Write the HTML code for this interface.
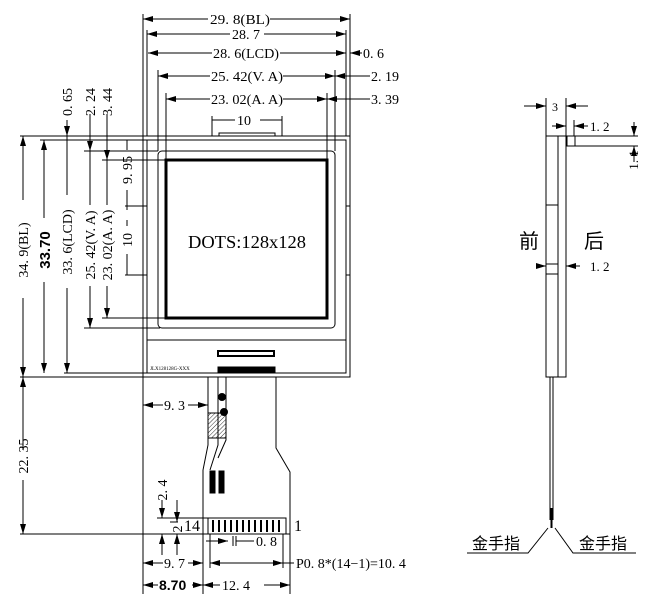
<!DOCTYPE html>
<html><head><meta charset="utf-8"><style>
html,body{margin:0;padding:0;background:#fff;width:668px;height:594px;overflow:hidden}
svg{display:block}
text{font-family:"Liberation Serif","Noto Serif CJK SC",serif;fill:#000}
.s{font-family:"Liberation Sans",sans-serif;font-weight:bold}
.c{font-family:"Noto Sans CJK SC",sans-serif}
</style></head><body>
<svg width="668" height="594" viewBox="0 0 668 594" xmlns="http://www.w3.org/2000/svg">
<defs>
<marker id="a" viewBox="0 0 10 6" refX="10" refY="3" markerWidth="10" markerHeight="6" orient="auto-start-reverse" markerUnits="userSpaceOnUse"><path d="M0,0L10,3L0,6z" fill="#000"/></marker>
<pattern id="h" width="3" height="3" patternUnits="userSpaceOnUse" patternTransform="rotate(45)"><line x1="0" y1="0" x2="0" y2="3" stroke="#000" stroke-width="0.8"/></pattern>
</defs>
<g stroke="#000" stroke-width="1" fill="none">
<line x1="143" y1="14" x2="143" y2="594"/>
<line x1="350" y1="14" x2="350" y2="136"/>
<line x1="147" y1="30" x2="147" y2="136"/>
<line x1="346" y1="30" x2="346" y2="136"/>
<line x1="158" y1="70" x2="158" y2="151"/>
<line x1="335" y1="70" x2="335" y2="151"/>
<line x1="166" y1="93" x2="166" y2="160"/>
<line x1="327" y1="93" x2="327" y2="160"/>
<line x1="212" y1="116" x2="212" y2="136"/>
<line x1="282" y1="116" x2="282" y2="136"/>
<line x1="143" y1="19" x2="208" y2="19" marker-start="url(#a)"/><line x1="270" y1="19" x2="350" y2="19" marker-end="url(#a)"/>
<line x1="147" y1="34" x2="230" y2="34" marker-start="url(#a)"/><line x1="264" y1="34" x2="346" y2="34" marker-end="url(#a)"/>
<line x1="148" y1="53" x2="212" y2="53" marker-start="url(#a)"/><line x1="280" y1="53" x2="346" y2="53" marker-end="url(#a)"/>
<line x1="362" y1="53" x2="350" y2="53" marker-end="url(#a)"/>
<line x1="158" y1="76" x2="210" y2="76" marker-start="url(#a)"/><line x1="283" y1="76" x2="335" y2="76" marker-end="url(#a)"/>
<line x1="370" y1="76" x2="335" y2="76" marker-end="url(#a)"/>
<line x1="166" y1="99" x2="210" y2="99" marker-start="url(#a)"/><line x1="283" y1="99" x2="327" y2="99" marker-end="url(#a)"/>
<line x1="370" y1="99" x2="327" y2="99" marker-end="url(#a)"/>
<line x1="212" y1="120" x2="235" y2="120"/><line x1="260" y1="120" x2="282" y2="120"/>
<line x1="20" y1="136" x2="350" y2="136"/>
<line x1="40" y1="140" x2="346" y2="140"/>
<rect x="143" y="136" width="207" height="241"/>
<rect x="147" y="140" width="199" height="233"/>
<rect x="219" y="133" width="56" height="3"/>
<rect x="158" y="151" width="177" height="177" rx="4"/>
<rect x="166" y="160" width="161" height="158" stroke-width="3"/>
<line x1="147" y1="340" x2="346" y2="340"/>
<rect x="218" y="351" width="56" height="5" stroke-width="2"/>
<rect x="218" y="367" width="57" height="6" fill="#000"/>
<line x1="20" y1="377" x2="350" y2="377"/>
<line x1="143" y1="206" x2="147" y2="206"/><line x1="346" y1="206" x2="350" y2="206"/>
<line x1="143" y1="275" x2="147" y2="275"/><line x1="346" y1="275" x2="350" y2="275"/>
<line x1="23" y1="136" x2="23" y2="200" marker-start="url(#a)"/><line x1="23" y1="298" x2="23" y2="377" marker-end="url(#a)"/>
<line x1="44" y1="140" x2="44" y2="218" marker-start="url(#a)"/><line x1="44" y1="282" x2="44" y2="373" marker-end="url(#a)"/>
<line x1="67" y1="120" x2="67" y2="136" marker-end="url(#a)"/>
<line x1="67" y1="136" x2="67" y2="195"/><line x1="67" y1="288" x2="67" y2="373" marker-end="url(#a)"/>
<line x1="64" y1="373" x2="147" y2="373"/>
<line x1="90" y1="114" x2="90" y2="151" marker-end="url(#a)"/>
<line x1="90" y1="151" x2="90" y2="205"/><line x1="90" y1="286" x2="90" y2="328" marker-end="url(#a)"/>
<line x1="84" y1="151" x2="158" y2="151"/><line x1="84" y1="328" x2="160" y2="328"/>
<line x1="107" y1="114" x2="107" y2="160" marker-end="url(#a)"/>
<line x1="107" y1="160" x2="107" y2="205"/><line x1="107" y1="286" x2="107" y2="318" marker-end="url(#a)"/>
<line x1="102" y1="160" x2="166" y2="160"/><line x1="102" y1="318" x2="166" y2="318"/>
<line x1="127" y1="140" x2="127" y2="150"/><line x1="127" y1="190" x2="127" y2="210"/>
<line x1="125" y1="206" x2="143" y2="206"/>
<line x1="127" y1="220" x2="127" y2="226"/><line x1="127" y1="254" x2="127" y2="275"/>
<line x1="125" y1="275" x2="143" y2="275"/>
<path d="M208,377V445L203,470V534"/>
<path d="M218,377V445L210,470"/>
<path d="M226,377V440L218,458"/>
<path d="M276,377V448L290,472V534"/>
<rect x="208" y="413" width="18" height="25" fill="url(#h)"/>
<circle cx="222" cy="397" r="3.5" fill="#000"/><circle cx="224" cy="412" r="3.5" fill="#000"/>
<rect x="210" y="471" width="5" height="22" fill="#000"/><rect x="219" y="471" width="5" height="22" fill="#000"/>
<rect x="208" y="518" width="78" height="16"/>
<path d="M213,520V532M219,520V532M225,520V532M231,520V532M237,520V532M243,520V532M249,520V532M255,520V532M261,520V532M267,520V532M273,520V532M279,520V532" stroke-width="2"/>
<line x1="20" y1="534" x2="290" y2="534"/>
<line x1="23" y1="377" x2="23" y2="450" marker-start="url(#a)"/><line x1="23" y1="480" x2="23" y2="534" marker-end="url(#a)"/>
<line x1="143" y1="405" x2="163" y2="405" marker-start="url(#a)"/><line x1="188" y1="405" x2="208" y2="405" marker-end="url(#a)"/>
<line x1="157" y1="518" x2="208" y2="518"/><line x1="170" y1="522" x2="178" y2="522"/>
<line x1="162" y1="500" x2="162" y2="518" marker-end="url(#a)"/><line x1="162" y1="555" x2="162" y2="534" marker-end="url(#a)"/>
<line x1="177" y1="500" x2="177" y2="522" marker-end="url(#a)"/><line x1="177" y1="555" x2="177" y2="534" marker-end="url(#a)"/>
<line x1="203" y1="534" x2="203" y2="594"/><line x1="290" y1="534" x2="290" y2="594"/>
<line x1="210" y1="534" x2="210" y2="568"/><line x1="283" y1="534" x2="283" y2="568"/>
<line x1="206" y1="541" x2="228" y2="541" marker-end="url(#a)"/><line x1="233" y1="536" x2="233" y2="546"/><line x1="236" y1="536" x2="236" y2="546"/><line x1="236" y1="541" x2="254" y2="541"/>
<line x1="143" y1="563" x2="163" y2="563" marker-start="url(#a)"/><line x1="188" y1="563" x2="203" y2="563" marker-end="url(#a)"/>
<line x1="210" y1="563" x2="283" y2="563" marker-start="url(#a)" marker-end="url(#a)"/>
<line x1="283" y1="563" x2="294" y2="563"/>
<line x1="143" y1="585" x2="158" y2="585" marker-start="url(#a)"/><line x1="192" y1="585" x2="203" y2="585" marker-end="url(#a)"/>
<line x1="203" y1="585" x2="220" y2="585" marker-start="url(#a)"/><line x1="264" y1="585" x2="290" y2="585" marker-end="url(#a)"/>
<rect x="546" y="136" width="12" height="241"/>
<rect x="558" y="136" width="8" height="241"/>
<line x1="546" y1="205" x2="558" y2="205"/><line x1="546" y1="264" x2="558" y2="264"/><line x1="546" y1="274" x2="558" y2="274"/>
<rect x="567" y="136" width="8" height="10"/>
<line x1="546" y1="98" x2="546" y2="136"/><line x1="566" y1="98" x2="566" y2="136"/>
<line x1="524" y1="106" x2="546" y2="106" marker-end="url(#a)"/><line x1="588" y1="106" x2="566" y2="106" marker-end="url(#a)"/>
<line x1="574" y1="120" x2="574" y2="136"/>
<line x1="552" y1="126" x2="566" y2="126" marker-end="url(#a)"/><line x1="588" y1="126" x2="574" y2="126" marker-end="url(#a)"/>
<line x1="575" y1="136" x2="638" y2="136"/><line x1="575" y1="146" x2="638" y2="146"/>
<line x1="634" y1="122" x2="634" y2="136" marker-end="url(#a)"/><line x1="634" y1="162" x2="634" y2="146" marker-end="url(#a)"/>
<line x1="536" y1="266" x2="546" y2="266" marker-end="url(#a)"/><line x1="580" y1="266" x2="566" y2="266" marker-end="url(#a)"/>
<line x1="550" y1="377" x2="550" y2="520"/><line x1="553" y1="377" x2="553" y2="520"/>
<line x1="551.5" y1="508" x2="551.5" y2="528" stroke-width="2"/>
<path d="M467,553H528L548,528"/><path d="M636,553H573L555,528"/>
</g>
<g font-size="14">
<text x="210" y="24" textLength="60" lengthAdjust="spacingAndGlyphs">29. 8(BL)</text>
<text x="232" y="39">28. 7</text>
<text x="213" y="58" textLength="66" lengthAdjust="spacingAndGlyphs">28. 6(LCD)</text>
<text x="363" y="58">0. 6</text>
<text x="211" y="81" textLength="72" lengthAdjust="spacingAndGlyphs">25. 42(V. A)</text>
<text x="371" y="81">2. 19</text>
<text x="211" y="104" textLength="72" lengthAdjust="spacingAndGlyphs">23. 02(A. A)</text>
<text x="371" y="104">3. 39</text>
<text x="237" y="125">10</text>
<text x="188" y="248" font-size="18" textLength="118" lengthAdjust="spacingAndGlyphs">DOTS:128x128</text>
<text x="150" y="370" font-size="5">JLX128128G-XXX</text>
<text transform="translate(28,250) rotate(-90)" text-anchor="middle">34. 9(BL)</text>
<text class="s" transform="translate(50,250) rotate(-90)" text-anchor="middle" font-size="15">33.70</text>
<text transform="translate(72,242) rotate(-90)" text-anchor="middle">33. 6(LCD)</text>
<text transform="translate(95,245) rotate(-90)" text-anchor="middle">25. 42(V. A)</text>
<text transform="translate(112,245) rotate(-90)" text-anchor="middle">23. 02(A. A)</text>
<text transform="translate(132,170) rotate(-90)" text-anchor="middle">9. 95</text>
<text transform="translate(132,240) rotate(-90)" text-anchor="middle">10</text>
<text transform="translate(72,102) rotate(-90)" text-anchor="middle">0. 65</text>
<text transform="translate(95,102) rotate(-90)" text-anchor="middle">2. 24</text>
<text transform="translate(112,102) rotate(-90)" text-anchor="middle">3. 44</text>
<text transform="translate(28,456) rotate(-90)" text-anchor="middle">22. 35</text>
<text x="164" y="410">9. 3</text>
<text transform="translate(167,490) rotate(-90)" text-anchor="middle">2. 4</text>
<text transform="translate(182,529) rotate(-90)" text-anchor="middle">2</text>
<text x="184" y="531" font-size="16">14</text>
<text x="294" y="531" font-size="16">1</text>
<text x="256" y="546">0. 8</text>
<text x="164" y="568">9. 7</text>
<text x="296" y="568">P0. 8*(14−1)=10. 4</text>
<text class="s" x="159" y="590">8.70</text>
<text x="222" y="590">12. 4</text>
<text x="552" y="111" font-size="12">3</text>
<text x="590" y="131" font-size="13">1. 2</text>
<text transform="translate(638,160) rotate(-90)" text-anchor="middle" font-size="13">1. 1</text>
<text class="c" x="519" y="248" font-size="20">前</text>
<text class="c" x="584" y="248" font-size="20">后</text>
<text x="590" y="271" font-size="13">1. 2</text>
<text class="c" x="472" y="549" font-size="16">金手指</text>
<text class="c" x="579" y="549" font-size="16">金手指</text>
</g>
</svg>
</body></html>
